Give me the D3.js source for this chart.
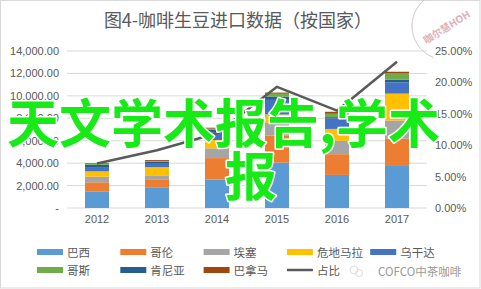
<!DOCTYPE html>
<html><head><meta charset="utf-8">
<script src="https://cdn.jsdelivr.net/npm/d3@7/dist/d3.min.js"></script>
<style>html,body{margin:0;padding:0;background:#fff;}svg{display:block;}</style>
</head><body>
<script>
const years = ["2012","2013","2014","2015","2016","2017"];
const brazil    = [1450, 1800, 2550, 4050, 2950, 3750];
const colombia  = [ 840,  760, 1900, 2400, 1850, 2450];
const ethiopia  = [ 500,  300,  870, 1130, 1200, 1600];
const guatemala = [ 480,  780,  740,  760, 1050, 2400];
const uganda    = [ 380,  300,  650, 1300,  950, 1000];
const costaRica = [  80,   80,  120,  250,  300,  550];
const kenya     = [ 200,  180,  250,  300,  100,  250];
const panama    = [  60,   80,   80,  100,  180,  150];
const share     = [7.1, 9.2, 11.9, 19.3, 15.5, 23.3];
const leftTicks = [0, 2000, 4000, 6000, 8000, 10000, 12000, 14000];
const rightTicks = [0, 5, 10, 15, 20, 25];
const seriesNames = ["巴西","哥伦","埃塞","危地马拉","乌干达","哥斯","肯尼亚","巴拿马"];
const seriesColors = ["#5B9BD5","#ED7D31","#A5A5A5","#FFC000","#4472C4","#70AD47","#255E91","#9E480E"];
const lineName = "占比";

const series = [brazil, colombia, ethiopia, guatemala, uganda, costaRica, kenya, panama];
const stackOrder = [0,1,2,3,4,6,5,7];

const W = 481, H = 289;
const svg = d3.select("body").append("svg").attr("width", W).attr("height", H);
svg.append("rect").attr("x",0.5).attr("y",0.5).attr("width",W-1.5).attr("height",H-1.5)
  .attr("fill","#fff").attr("stroke","#d9d9d9");

const x = d3.scaleBand().domain(years).range([67, 427]).paddingInner(0.6).paddingOuter(0.3);
const y = d3.scaleLinear().domain([0, 14000]).range([208, 51]);
const y2 = d3.scaleLinear().domain([0, 25]).range([208, 51]);
const numFont = "'Liberation Sans', Arial, sans-serif";
const cjkFont = "'Noto Sans CJK SC', sans-serif";
const txt = "#595959";

// title
svg.append("text").attr("x", 238).attr("y", 19).attr("text-anchor","middle")
  .attr("dominant-baseline","central").attr("font-family", cjkFont).attr("font-size", 18)
  .attr("fill", txt).text("图4-咖啡生豆进口数据（按国家）");

// stamp watermark
const stamp = svg.append("g").attr("transform","translate(446,26) rotate(-32)").attr("opacity",0.5);
stamp.append("path").attr("d", d3.arc()({innerRadius: 34, outerRadius: 34, startAngle: -2.2, endAngle: 0.3}))
  .attr("fill","none").attr("stroke","#b9a9a9").attr("stroke-width",0.8);
stamp.append("text").attr("x",0).attr("y",5).attr("text-anchor","middle").attr("font-family",cjkFont)
  .attr("font-size",10).attr("font-weight","bold").attr("fill","#c0606e").text("咖尔慧HOH");

// gridlines
svg.append("g").selectAll("line").data(leftTicks.slice(1)).join("line")
  .attr("x1", 67).attr("x2", 427).attr("y1", d => y(d)).attr("y2", d => y(d))
  .attr("stroke", "#d9d9d9").attr("stroke-width", 1);
svg.append("line").attr("x1",67).attr("x2",427).attr("y1",y(0)).attr("y2",y(0)).attr("stroke","#d9d9d9");

// left axis
const fmt = d3.format(",.2f");
const yAxis = d3.axisLeft(y).tickValues(leftTicks).tickSize(0).tickPadding(0)
  .tickFormat(d => d === 0 ? "-   " : fmt(d));
const ga = svg.append("g").attr("transform","translate(59,0)").call(yAxis);
ga.select(".domain").remove();
ga.selectAll("text").attr("font-family", numFont).attr("font-size", 11).attr("fill", txt);

// right axis
const yAxis2 = d3.axisRight(y2).tickValues(rightTicks).tickSize(0).tickPadding(0)
  .tickFormat(d => d.toFixed(2) + "%");
const gb = svg.append("g").attr("transform","translate(435,0)").call(yAxis2);
gb.select(".domain").remove();
gb.selectAll("text").attr("font-family", numFont).attr("font-size", 11).attr("fill", txt);

// x axis
const xAxis = d3.axisBottom(x).tickSize(0).tickPadding(0);
const gx = svg.append("g").attr("transform","translate(0,215)").call(xAxis);
gx.select(".domain").remove();
gx.selectAll("text").attr("font-family", numFont).attr("font-size", 11).attr("fill", txt).attr("dy","0.71em");

// stacked bars
const rows = years.map((yr, i) => { const o = {year: yr}; stackOrder.forEach(k => o[k] = series[k][i]); return o; });
const stacked = d3.stack().keys(stackOrder)(rows);
svg.append("g").selectAll("g").data(stacked).join("g")
  .attr("fill", d => seriesColors[d.key])
  .selectAll("rect").data(d => d).join("rect")
  .attr("x", d => x(d.data.year)).attr("width", x.bandwidth())
  .attr("y", d => y(d[1])).attr("height", d => y(d[0]) - y(d[1]));

// line
const line = d3.line().x((d, i) => x(years[i]) + x.bandwidth()/2).y(d => y2(d));
svg.append("path").datum(share).attr("d", line).attr("fill","none")
  .attr("stroke","#5a5a5a").attr("stroke-width",2.5).attr("stroke-linejoin","round");

// legend
const legendItems = seriesNames.map((n, i) => ({name: n, color: seriesColors[i], type: "rect"}));
legendItems.push({name: lineName, color: "#5a5a5a", type: "line"});
const lg = svg.append("g");
legendItems.forEach((it, i) => {
  const col = i < 5 ? i : i - 5, row = i < 5 ? 0 : 1;
  const lx = 37 + col * 83.3, ly = row === 0 ? 252 : 270;
  if (it.type === "rect") {
    lg.append("rect").attr("x", lx).attr("y", ly - 3).attr("width", 26).attr("height", 6).attr("fill", it.color);
  } else {
    lg.append("line").attr("x1", lx).attr("x2", lx + 26).attr("y1", ly).attr("y2", ly)
      .attr("stroke", it.color).attr("stroke-width", 2.5);
  }
  lg.append("text").attr("x", lx + 30).attr("y", ly).attr("dominant-baseline","central")
    .attr("font-family", cjkFont).attr("font-size", 11.5).attr("fill", txt).text(it.name);
});

// wechat watermark
const wm = svg.append("g").attr("opacity",0.6);
wm.append("circle").attr("cx",354).attr("cy",270).attr("r",4).attr("fill","none").attr("stroke","#bbb").attr("stroke-width",0.8);
wm.append("circle").attr("cx",359).attr("cy",273).attr("r",3.5).attr("fill","none").attr("stroke","#bbb").attr("stroke-width",0.8);
svg.append("text").attr("x", 378).attr("y", 271).attr("dominant-baseline","central")
  .attr("font-family", cjkFont).attr("font-size", 11.5).attr("fill", "#9a9a9a").text("COFCO中茶咖啡");

// green overlay text
const ov = svg.append("g").attr("font-family", cjkFont).attr("font-weight","bold").attr("font-size", 52)
  .attr("fill", "#17EA17").attr("stroke", "#ffffff").attr("stroke-width", 3).attr("paint-order","stroke")
  .attr("stroke-linejoin","round");
ov.append("text").attr("x", 7).attr("y", 143).text("天文学术报告,学术");
ov.append("text").attr("x", 225).attr("y", 196).text("报");
</script>
</body></html>
